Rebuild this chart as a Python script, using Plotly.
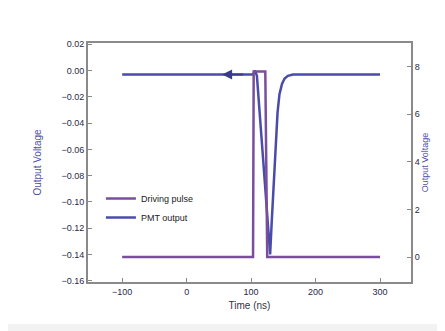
import plotly.graph_objects as go

# Driving pulse (right axis)
pulse_t = [-100, 103, 104, 122, 125, 300]
pulse_v = [0, 0, 7.8, 7.8, 0, 0]

# PMT output (left axis)
pmt_t = [-100, 103, 106, 109, 119, 129.5, 132, 135, 138, 141, 144, 148, 152, 157, 165, 300]
pmt_v = [-0.003, -0.003, 0.0, -0.004, -0.07, -0.14, -0.115, -0.085, -0.055, -0.032, -0.018, -0.01, -0.006, -0.004, -0.003, -0.003]

x_ticks = [-100, 0, 100, 200, 300]
yl_ticks = [0.02, 0.00, -0.02, -0.04, -0.06, -0.08, -0.10, -0.12, -0.14, -0.16]
yr_ticks = [0, 2, 4, 6, 8]

purple = "#7a4e9c"
blue = "#4a4caa"

fig = go.Figure()
fig.add_trace(go.Scatter(x=pulse_t, y=pulse_v, mode="lines", name="Driving pulse",
                         line=dict(color=purple, width=2.5), yaxis="y2"))
fig.add_trace(go.Scatter(x=pmt_t, y=pmt_v, mode="lines", name="PMT output",
                         line=dict(color=blue, width=2.5)))

fig.add_annotation(x=55, y=-0.003, ax=90, ay=-0.003, xref="x", yref="y", axref="x", ayref="y",
                   showarrow=True, arrowhead=2, arrowsize=1, arrowwidth=2, arrowcolor="#3a3a90", text="")

fig.add_shape(type="rect", xref="paper", yref="paper", x0=-0.2477, x1=1.0805, y0=-0.1757, y1=1.1464,
              fillcolor="white", line=dict(width=0), layer="below")

axis_common = dict(showline=True, linecolor="#8a8a8a", linewidth=2, ticks="inside", ticklen=4,
                   tickcolor="#8a8a8a", showgrid=False, zeroline=False, automargin=False,
                   tickfont=dict(family="Liberation Sans", size=9, color="#2a2a48"))

fig.update_layout(
    width=437, height=323,
    margin=dict(l=80, r=34, t=35, b=49),
    paper_bgcolor="#f2f2f2", plot_bgcolor="white",
    showlegend=True,
    legend=dict(x=0.04, y=0.41, xanchor="left", yanchor="top", bgcolor="rgba(0,0,0,0)",
                font=dict(family="Liberation Sans", size=9, color="#222222"),
                tracegroupgap=0, itemwidth=30),
    xaxis=dict(range=[-153, 348], tickvals=x_ticks, mirror=True,
               title=dict(text="Time (ns)", font=dict(family="Liberation Sans", size=10, color="#333344"), standoff=6),
               **axis_common),
    yaxis=dict(range=[-0.161, 0.021], tickvals=yl_ticks, tickformat=".2f", mirror=True,
               title=dict(text="Output Voltage", font=dict(family="Liberation Sans", size=10, color="#5050a8"), standoff=18),
               **axis_common),
    yaxis2=dict(range=[-1.05, 9.0], tickvals=yr_ticks, overlaying="y", side="right",
                title=dict(text="Output Voltage", font=dict(family="Liberation Sans", size=9, color="#5050a8"), standoff=2),
                **axis_common),
)

fig.write_html("out.html")
